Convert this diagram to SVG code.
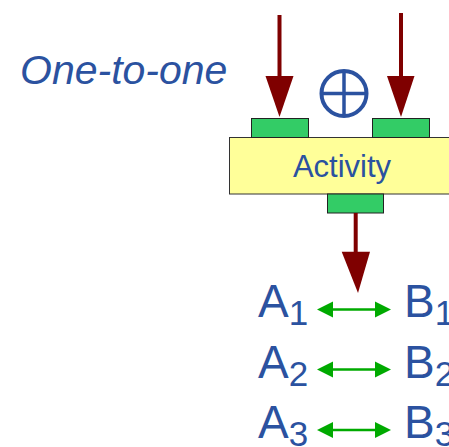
<svg xmlns="http://www.w3.org/2000/svg" width="449" height="447" viewBox="0 0 449 447">
  <style>
    .lbl { font-family: "Liberation Sans", Arial, sans-serif; fill: #2b52a0; }
    .port { fill: #33cc66; stroke: #222; stroke-width: 1; }
    .flow { stroke: #7f0000; stroke-width: 4; fill: none; }
    .head { fill: #7f0000; }
    .pair { stroke: #00aa00; stroke-width: 2.5; fill: none; }
    .tip { fill: #00aa00; }
  </style>
  <defs>
    <!-- double-headed correspondence arrow, 74px long -->
    <g id="biarrow">
      <line class="pair" x1="10" y1="0" x2="64" y2="0"/>
      <polygon class="tip" points="0,0 16,-8 16,8"/>
      <polygon class="tip" points="74,0 58,-8 58,8"/>
    </g>
  </defs>

  <text id="title" class="lbl" x="20" y="83.5" font-size="41" font-style="italic">One-to-one</text>

  <g id="activity">
    <rect x="229.5" y="137.5" width="225" height="56.5" fill="#ffff99" stroke="#333" stroke-width="1"/>
    <text class="lbl" x="342" y="177" font-size="31" text-anchor="middle">Activity</text>
  </g>
  <g id="in-left"><rect class="port" x="251.5" y="118.5" width="57" height="19"/></g>
  <g id="in-right"><rect class="port" x="372.5" y="118.5" width="57" height="19"/></g>
  <g id="out"><rect class="port" x="327.5" y="194" width="56" height="19"/></g>

  <g id="xor">
    <circle cx="344" cy="93.5" r="22.5" fill="none" stroke="#2b52a0" stroke-width="4"/>
    <line x1="321.5" y1="93.5" x2="366.5" y2="93.5" stroke="#2b52a0" stroke-width="3.5"/>
    <line x1="344" y1="71" x2="344" y2="116" stroke="#2b52a0" stroke-width="3.5"/>
  </g>

  <g id="connectors">
    <line class="flow" x1="279.5" y1="15" x2="279.5" y2="80"/>
    <polygon class="head" points="265.5,76 293.5,76 279.5,117"/>
    <line class="flow" x1="401" y1="13" x2="401" y2="80"/>
    <polygon class="head" points="387,76 414.5,76 401,117"/>
    <line class="flow" x1="355.7" y1="213" x2="355.7" y2="256"/>
    <polygon class="head" points="341.7,251.7 370,251.7 358,293"/>
    <use href="#biarrow" x="317" y="309.5"/>
    <use href="#biarrow" x="317" y="369.5"/>
    <use href="#biarrow" x="317" y="430"/>
  </g>

  <g id="a1"><text class="lbl" x="258" y="317" font-size="46">A<tspan font-size="35" dy="8">1</tspan></text></g>
  <g id="b1"><text class="lbl" x="404" y="317" font-size="46">B<tspan font-size="35" dy="8">1</tspan></text></g>
  <g id="a2"><text class="lbl" x="258" y="377.5" font-size="46">A<tspan font-size="35" dy="8">2</tspan></text></g>
  <g id="b2"><text class="lbl" x="404" y="377.5" font-size="46">B<tspan font-size="35" dy="8">2</tspan></text></g>
  <g id="a3"><text class="lbl" x="258" y="438" font-size="46">A<tspan font-size="35" dy="8">3</tspan></text></g>
  <g id="b3"><text class="lbl" x="404" y="438" font-size="46">B<tspan font-size="35" dy="8">3</tspan></text></g>
</svg>
